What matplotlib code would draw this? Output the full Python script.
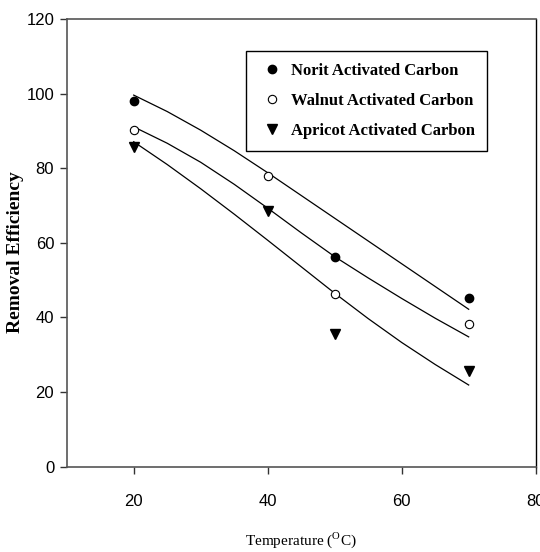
import matplotlib.pyplot as plt
from matplotlib.lines import Line2D

plt.rcParams['mathtext.fontset'] = 'custom'
plt.rcParams['mathtext.rm'] = 'Liberation Serif'

# measured points
temp_norit = [20, 50, 70]
norit = [98.1, 56.1, 45.2]
temp_walnut = [20, 40, 50, 70]
walnut = [90.2, 78.0, 46.2, 38.2]
temp_apricot = [20, 40, 50, 70]
apricot = [85.8, 68.6, 35.6, 25.6]

# fitted curves
fit_temp = [20, 25, 30, 35, 40, 45, 50, 55, 60, 65, 70]
fit_norit = [99.6, 95.2, 90.2, 84.7, 78.8, 72.7, 66.6, 60.5, 54.4, 48.3, 42.2]
fit_walnut = [91.1, 86.7, 81.6, 75.7, 69.3, 62.7, 56.3, 50.6, 45.1, 39.8, 34.8]
fit_apricot = [87.1, 81.0, 74.5, 67.7, 60.7, 53.6, 46.5, 39.7, 33.3, 27.4, 21.9]

labels = ['Norit Activated Carbon', 'Walnut Activated Carbon', 'Apricot Activated Carbon']

tick_font = ['Liberation Sans Narrow', 'Liberation Sans', 'DejaVu Sans']
serif = ['Liberation Serif', 'DejaVu Serif']

fig = plt.figure(figsize=(5.4, 5.52), dpi=100)
ax = fig.add_axes([0.1235, 0.1545, 0.8685, 0.8111])

ax.plot(fit_temp, fit_norit, color='black', lw=0.9)
ax.plot(fit_temp, fit_walnut, color='black', lw=0.9)
ax.plot(fit_temp, fit_apricot, color='black', lw=0.9)

ax.plot(temp_norit, norit, 'o', ms=6, mfc='black', mec='black', ls='none')
ax.plot(temp_walnut, walnut, 'o', ms=6, mfc='white', mec='black', mew=0.8, ls='none')
ax.plot(temp_apricot, apricot, 'v', ms=7, mfc='black', mec='black', ls='none')

ax.set_xlim(10, 80)
ax.set_ylim(0, 120)
ax.set_xticks([20, 40, 60, 80])
ax.set_yticks([0, 20, 40, 60, 80, 100, 120])

for side in ['left', 'bottom', 'top']:
    ax.spines[side].set_color('#555555')
    ax.spines[side].set_linewidth(1.2)
ax.spines['right'].set_color('black')
ax.spines['right'].set_linewidth(1.0)

ax.tick_params(axis='x', direction='out', length=5, width=1, color='#333333', pad=15)
ax.tick_params(axis='y', direction='out', length=5, width=1, color='#333333', pad=4)
for lab in ax.get_xticklabels() + ax.get_yticklabels():
    lab.set_family(tick_font)
    lab.set_fontsize(12)

ax.set_xlabel(r'Temperature ($^{\mathrm{O}}$C)', family=serif, fontsize=11)
ax.xaxis.set_label_coords(0.5, -0.142)
ax.set_ylabel('Removal Efficiency', family=serif, fontsize=14, fontweight='bold')
ax.yaxis.set_label_coords(-0.092, 0.48)

handles = [
    Line2D([], [], marker='o', ls='none', ms=6, mfc='black', mec='black'),
    Line2D([], [], marker='o', ls='none', ms=6, mfc='white', mec='black', mew=0.8),
    Line2D([], [], marker='v', ls='none', ms=7, mfc='black', mec='black'),
]
leg = ax.legend(handles, labels, loc='upper left', bbox_to_anchor=(0.382, 0.9285),
                borderaxespad=0, fancybox=False, edgecolor='black', framealpha=1,
                prop={'family': serif, 'weight': 'bold', 'size': 12},
                handlelength=1.7, handletextpad=0.3, labelspacing=0.85, borderpad=0.7)
leg.get_frame().set_linewidth(1.0)

fig.savefig('out.png', dpi=100)
